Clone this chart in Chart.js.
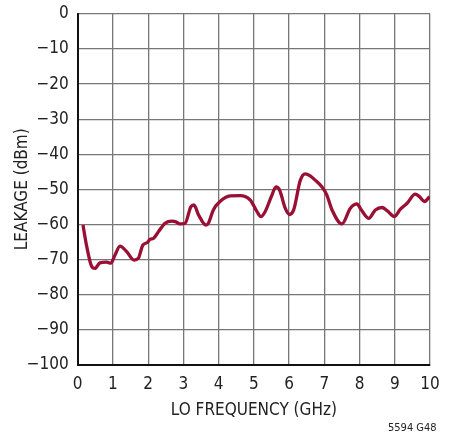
<!DOCTYPE html>
<html>
<head>
<meta charset="utf-8">
<script src="https://cdn.jsdelivr.net/npm/chart.js@4/dist/chart.umd.min.js"></script>
<style>
  html, body { margin: 0; padding: 0; background: #fff; }
  #wrap { position: relative; width: 451px; height: 434px; }
  #note { position: absolute; left: 388px; top: 421px; font: 11px "DejaVu Sans Condensed", "Liberation Sans Narrow", sans-serif; color: #222; }
</style>
</head>
<body>
<div id="wrap">
  <canvas id="c" width="451" height="434"></canvas>
  <div id="note">5594 G48</div>
</div>
<script>
// LO leakage vs LO frequency
const freqGHz = [0.15, 0.25, 0.4, 0.49, 0.63, 0.82, 0.94, 1.05, 1.2, 1.39, 1.6, 1.72, 1.85, 1.98, 2.05, 2.15, 2.3, 2.48, 2.67, 2.79, 2.9, 3.05, 3.21, 3.3, 3.43, 3.64, 3.71, 3.85, 4.04, 4.33, 4.61, 4.9, 5.09, 5.2, 5.32, 5.5, 5.63, 5.73, 5.89, 6.01, 6.13, 6.32, 6.46, 6.6, 6.74, 6.93, 7.07, 7.22, 7.5, 7.74, 7.93, 8.02, 8.26, 8.45, 8.64, 8.78, 8.99, 9.16, 9.35, 9.58, 9.7, 9.84, 9.99];
const leakageDbm = [-60.2, -66, -72.1, -72.6, -71, -70.8, -71.1, -69, -66.2, -67.8, -70.2, -69.7, -65.9, -65.2, -64.3, -64, -62, -59.7, -59.1, -59.3, -59.9, -59.7, -55, -54.5, -57.3, -60.2, -59.7, -55.9, -53.5, -51.9, -51.8, -53.1, -56.4, -57.8, -56.4, -52, -49.3, -50.2, -55.4, -57.2, -55.9, -47.4, -45.6, -46.2, -47.4, -49.3, -51.6, -55.9, -59.9, -55.4, -54.2, -55.4, -58.3, -55.9, -55.2, -56.1, -57.8, -55.7, -54, -51.4, -52.1, -53.5, -52.1];
const xTicks = [0, 1, 2, 3, 4, 5, 6, 7, 8, 9, 10];
const yTicks = [0, -10, -20, -30, -40, -50, -60, -70, -80, -90, -100];

const FONT = '"DejaVu Sans Condensed", "Liberation Sans Narrow", sans-serif';
const points = freqGHz.map((f, i) => ({ x: f, y: leakageDbm[i] }));

new Chart(document.getElementById('c'), {
  type: 'line',
  data: {
    datasets: [{
      data: points,
      borderColor: '#9a0f34',
      borderWidth: 3.3,
      pointRadius: 0,
      tension: 0.4,
      cubicInterpolationMode: 'monotone',
    }]
  },
  options: {
    responsive: false,
    animation: false,
    layout: { padding: { top: 14, right: 21, left: 0, bottom: 0 } },
    plugins: { legend: { display: false }, tooltip: { enabled: false } },
    scales: {
      x: {
        type: 'linear', min: 0, max: 10,
        afterBuildTicks: s => { s.ticks = xTicks.map(v => ({ value: v })); },
        afterFit: s => { s.height = 69.5; s.paddingLeft = 0; s.paddingRight = 0; },
        grid: { color: '#777', lineWidth: 1.3, drawTicks: false },
        border: { color: '#111', width: 2 },
        ticks: { color: '#222', font: { family: FONT, size: 17 }, padding: 10 },
        title: { display: true, text: 'LO FREQUENCY (GHz)', color: '#222', font: { family: FONT, size: 17 }, padding: { top: 0, bottom: 13 } },
      },
      y: {
        type: 'linear', min: -100, max: 0,
        afterBuildTicks: s => { s.ticks = yTicks.map(v => ({ value: v })); },
        afterFit: s => { s.width = 77.7; s.paddingTop = 0; s.paddingBottom = 0; },
        grid: { color: '#777', lineWidth: 1.3, drawTicks: false },
        border: { color: '#111', width: 2 },
        ticks: { color: '#222', font: { family: FONT, size: 17 }, padding: 9, callback: v => String(v).replace('-', '\u2212') },
        title: { display: true, text: 'LEAKAGE (dBm)', color: '#222', font: { family: FONT, size: 17 }, padding: { top: 12, bottom: 0 } },
      }
    }
  }
});
</script>
</body>
</html>
